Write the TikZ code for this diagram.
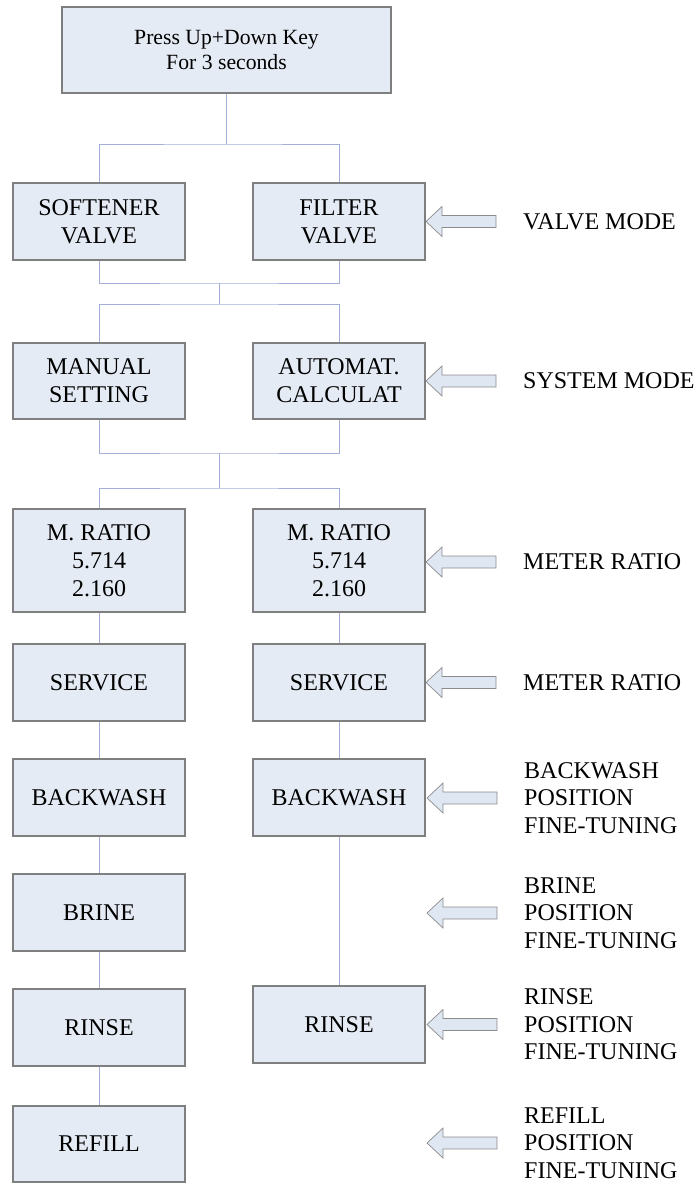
\documentclass[tikz,border=0pt]{standalone}
\usepackage{fontspec}
\setmainfont{Liberation Serif}
\definecolor{boxfill}{HTML}{E5EBF5}
\definecolor{boxline}{HTML}{7F7F7F}
\definecolor{connline}{HTML}{A4AEDA}
\definecolor{arrfill}{HTML}{DFE7F3}
\definecolor{arrline}{HTML}{8C8C8C}
\tikzset{
  stepbox/.style={draw=boxline, line width=1.1pt, fill=boxfill, rectangle,
    inner sep=0pt, align=center, minimum width=172pt, minimum height=77pt,
    font=\fontsize{24}{28}\selectfont},
  conn/.style={draw=connline, line width=0.9pt},
  sidelabel/.style={anchor=west, inner sep=0pt, align=left,
    font=\fontsize{24}{27.5}\selectfont},
  blockarrow/.style={draw=arrline, line width=0.7pt, fill=arrfill, line join=miter},
}
% hollow block arrow pointing left, ending 27pt before the given label
\newcommand\pointfrom[1]{%
  \draw[blockarrow] ([xshift=-27pt]#1.west) ++(0,-6) -- ++(-54,0) -- ++(0,-9)
    -- ++(-16,15) -- ++(16,15) -- ++(0,-9) -- ++(54,0) -- cycle;}
\begin{document}
\begin{tikzpicture}[x=1pt, y=-1pt]
\useasboundingbox (0,0) rectangle (698,1183);

% start box
\node[stepbox, minimum width=329pt, minimum height=86pt,
  font=\fontsize{21.7}{25}\selectfont] (top) at (226.5,50) {Press Up+Down Key\\For 3 seconds};

% valve type
\node[stepbox] (soft) at (99,221.5) {SOFTENER\\VALVE};
\node[stepbox] (filt) at (339,221.5) {FILTER\\VALVE};

% system mode
\node[stepbox, minimum height=76pt] (man) at (99,381) {MANUAL\\SETTING};
\node[stepbox, minimum height=76pt] (auto) at (339,381) {AUTOMAT.\\CALCULAT};

% softener column
\node[stepbox, minimum height=103pt] (mrL) at (99,560.5) {M. RATIO\\5.714\\2.160};
\node[stepbox] (svL) at (99,682.5) {SERVICE};
\node[stepbox] (bwL) at (99,797.5) {BACKWASH};
\node[stepbox] (brL) at (99,912.5) {BRINE};
\node[stepbox] (riL) at (99,1027.5) {RINSE};
\node[stepbox, minimum height=76pt] (rfL) at (99,1144) {REFILL};

% filter column
\node[stepbox, minimum height=103pt] (mrR) at (339,560.5) {M. RATIO\\5.714\\2.160};
\node[stepbox] (svR) at (339,682.5) {SERVICE};
\node[stepbox] (bwR) at (339,797.5) {BACKWASH};
\node[stepbox] (riR) at (339,1024.5) {RINSE};

% junction points
\coordinate (j1) at (226.5,144);
\coordinate (j2) at (219,283);
\coordinate (j3) at (219,304);
\coordinate (j4) at (219,453);
\coordinate (j5) at (219,488);

% connectors
\draw[conn] (top.south) -- (j1);
\draw[conn] (soft.north) |- (j1) -| (filt.north);
\draw[conn] (soft.south) |- (j2) -| (filt.south);
\draw[conn] (j2) -- (j3);
\draw[conn] (man.north) |- (j3) -| (auto.north);
\draw[conn] (man.south) |- (j4) -| (auto.south);
\draw[conn] (j4) -- (j5);
\draw[conn] (mrL.north) |- (j5) -| (mrR.north);
\draw[conn] (mrL.south) -- (svL.north);
\draw[conn] (svL.south) -- (bwL.north);
\draw[conn] (bwL.south) -- (brL.north);
\draw[conn] (brL.south) -- (riL.north);
\draw[conn] (riL.south) -- (rfL.north);
\draw[conn] (mrR.south) -- (svR.north);
\draw[conn] (svR.south) -- (bwR.north);
\draw[conn] (bwR.south) -- (riR.north);

% side labels
\node[sidelabel] (lvm) at (523,221.5) {VALVE MODE};
\node[sidelabel] (lsm) at (523,381) {SYSTEM MODE};
\node[sidelabel] (lmr1) at (523,562) {METER RATIO};
\node[sidelabel] (lmr2) at (523,682.5) {METER RATIO};
\node[sidelabel] (lbw) at (524,798) {BACKWASH\\POSITION\\FINE-TUNING};
\node[sidelabel] (lbr) at (524,913) {BRINE\\POSITION\\FINE-TUNING};
\node[sidelabel] (lri) at (524,1024.5) {RINSE\\POSITION\\FINE-TUNING};
\node[sidelabel] (lrf) at (524,1143) {REFILL\\POSITION\\FINE-TUNING};

% pointer arrows
\pointfrom{lvm}
\pointfrom{lsm}
\pointfrom{lmr1}
\pointfrom{lmr2}
\pointfrom{lbw}
\pointfrom{lbr}
\pointfrom{lri}
\pointfrom{lrf}
\end{tikzpicture}
\end{document}
